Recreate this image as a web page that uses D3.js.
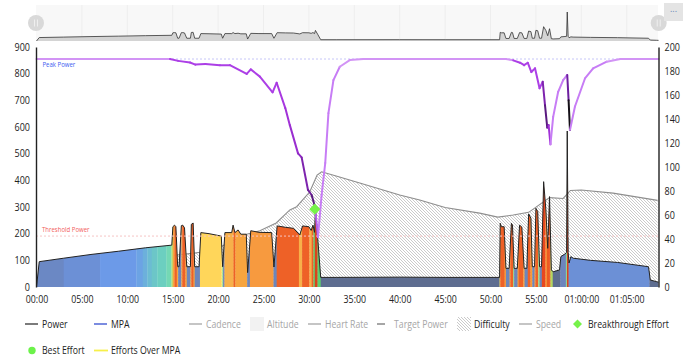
<!DOCTYPE html>
<html><head><meta charset="utf-8">
<script src="https://cdn.jsdelivr.net/npm/d3@7"></script>
<style>
html,body{margin:0;padding:0;background:#fff}
svg{display:block}
text{font-family:"Open Sans",sans-serif}
</style></head><body>
<svg id="c" width="690" height="361"></svg>
<script>
// ---- data (minutes, watts) ----
const powerT = [0,0.3,3,6,9,12,14.9,15.02,15.2,15.35,15.55,15.7,15.95,16.1,16.3,16.55,16.95,17.05,17.25,17.42,17.9,18.1,19,20.35,20.5,20.75,21.5,21.65,21.85,22.2,22.5,23.1,23.25,23.6,24.5,25.9,26.15,26.5,27.4,28.3,29,29.3,30,30.25,30.45,30.62,30.72,31,31.3,33,40,45,51,51.07,51.2,51.5,51.7,52.05,52.3,52.42,52.6,52.95,53.2,53.45,53.7,54,54.2,54.45,54.6,54.85,55,55.2,55.4,55.62,55.85,56.1,56.3,56.5,56.7,56.9,57.6,57.75,58.2,58.38,58.45,58.55,58.65,58.85,59.1,61,64,67.4,67.6,68.3,68.5];
const powerW = [0,95,108,122,134,147,157,226,232,226,76,76,230,232,222,76,76,235,240,76,76,204,200,191,76,204,204,232,204,214,198,198,54,211,205,204,75,229,224,220,195,229,226,212,232,205,292,170,36,36,37,36,36,239,226,226,70,70,239,232,70,70,232,225,70,70,274,258,76,76,295,283,76,76,395,289,145,339,64,57,64,114,124,130,585,130,90,114,108,100,92,76,26,20,18];
const difficultyT = [15.2,17.4,18,20.5,23.15,24.6,26.4,27.9,28.65,30.1,30.9,31.4,33,35.6,40,42.2,45,48.8,50.8,52.5,54.2,56.5,58,58.8,60,63.5,68.4];
const difficultyW = [119,127,130,155,198,211,240,289,301,357,420,432,416,390,345,326,298,277,262,270,280,335,332,362,364,352,325];
const mpaT = [0,14.7,15.6,16.9,17.5,18.6,20.2,21.3,23.15,23.6,24.6,26,26.45,27.4,27.9,28.8,29.2,29.9,30.3,30.67,31,31.4,31.8,32.15,32.7,33.4,34.5,36,51.7,52.5,53.25,53.7,54.1,54.5,54.9,55.4,55.75,56,56.25,56.4,56.6,56.9,57.45,58,58.45,58.6,58.75,59.3,60.4,61.3,62.8,64.3,68.5];
const mpaW = [855,855,848,842,834,836,832,832,799,816,789,730,766,671,607,501,486,364,345,301,187,345,465,652,776,826,851,855,855,850,841,832,841,806,820,745,770,682,598,607,535,638,732,776,795,700,589,677,782,820,845,855,855];
const mpaTone = ["#d294f5","#ac3fe6","#ac3fe6","#ac3fe6","#ac3fe6","#ac3fe6","#ac3fe6","#ac3fe6","#ac3fe6","#ac3fe6","#ac3fe6","#ac3fe6","#a838e0","#a232d8","#9a2ed0","#8f2ac4","#7e24ae","#6e1f9a","#5a1a80","#b45cf0","#c77df5","#c77df5","#c77df5","#c77df5","#c77df5","#d294f5","#d294f5","#d294f5","#d294f5","#ac3fe6","#ac3fe6","#ac3fe6","#ac3fe6","#ac3fe6","#ac3fe6","#ac3fe6","#7e24ae","#5a1a80","#6e1f9a","#a232d8","#c77df5","#c77df5","#c77df5","#c77df5","#6d1fa0","#151018","#c77df5","#c77df5","#c77df5","#c77df5","#d294f5","#d294f5"];
const bandStart = [0,3,7,11,11.7,12.2,12.7,13.3,14.3,14.85,15.0,15.2,15.45,15.6,15.95,16.05,16.4,16.55,16.95,17.05,17.3,17.42,18,20.35,20.45,20.55,20.7,21.7,21.9,23.2,23.5,25.9,26.1,26.45,28.9,29.25,30.05,30.3,30.5,30.65,30.95,31.2,31.3,51,51.07,51.55,51.7,52.1,52.2,52.48,52.6,52.98,53.1,53.6,53.75,54.1,54.4,54.6,54.85,54.95,55.25,55.4,55.65,56.05,56.2,56.45,56.6,56.85,57.7,58.3,58.42,58.6,67.5];
const bandColor = ["#6b88c4","#6c90d6","#6c9ae8","#6ca3e4","#6cb0dc","#6cbcd2","#6cc6c8","#6ccfc0","#74d8b4","#b2e07a","#f7a53f","#ee6127","#f7a53f","#6d86ba","#f7a53f","#ee6127","#f7a53f","#6d86ba","#f7a53f","#ee6127","#f7a53f","#6d86ba","#ffd65a","#ffe070","#9fe08a","#6d86ba","#f7b04a","#ee6127","#f7a53f","#6d86ba","#f79a3f","#f79a3f","#6d86ba","#ee6127","#f7b04a","#ee6127","#f7b04a","#ee6127","#5fd070","#d8441c","#5fd070","#5fd070","#5e6d90","#ffe14d","#ee6127","#f79a3a","#6d86ba","#f79a3a","#ee6127","#9fd08a","#6d86ba","#f79a3a","#ee6127","#f79a3a","#6d86ba","#ee6127","#f79a3a","#6d86ba","#f79a3a","#ee6127","#9fe08a","#6d86ba","#e8481f","#f79a3a","#ee5a22","#ee5a22","#b5d860","#5e6d90","#6d85bd","#8fd89a","#d8441c","#6c90d6","#5e6d90"];
const overviewSpikeT = 58.45, overviewSpikeW = 800;
const thresholdPower = 191, peakPower = 855;
const breakthrough = [30.65, 292];
const leftTicks = [0,100,200,300,400,500,600,700,800,900];
const rightTicks = [0,20,40,60,80,100,120,140,160,180,200];
const xTicks = [0,5,10,15,20,25,30,35,40,45,50,55,60,65];
const legendRow1 = ["Power","MPA","Cadence","Altitude","Heart Rate","Target Power","Difficulty","Speed","Breakthrough Effort"];
const legendRow2 = ["Best Effort","Efforts Over MPA"];

// ---- layout ----
const svg = d3.select("#c");
const x = d3.scaleLinear().domain([0,68.5]).range([36.5,658.5]);
const y = d3.scaleLinear().domain([0,900]).range([287,47]);
const yR = d3.scaleLinear().domain([0,200]).range([287,47]);
const yO = d3.scaleLinear().domain([0,800]).range([41,12]);
const condense = (sel,k)=>sel.each(function(){const L=this.getComputedTextLength();d3.select(this).attr("textLength",L*k).attr("lengthAdjust","spacingAndGlyphs")});

const defs = svg.append("defs");
const hatch = defs.append("pattern").attr("id","hatch").attr("patternUnits","userSpaceOnUse").attr("width",3).attr("height",3);
hatch.append("rect").attr("width",3).attr("height",3).attr("fill","#fff");
hatch.append("path").attr("d","M-1,-1L4,4M-1,2L1,4M2,-1L4,1").attr("stroke","#bdbdbd").attr("stroke-width",0.8);

// overview
svg.append("rect").attr("x",36).attr("y",5).attr("width",622).attr("height",36).attr("fill","#f8f8f8");
svg.append("g").selectAll("line").data(xTicks.slice(1)).join("line")
  .attr("x1",d=>x(d)).attr("x2",d=>x(d)).attr("y1",5).attr("y2",41).attr("stroke","#eeeeee");
const ovData = powerT.map((t,i)=>[t, t===overviewSpikeT?overviewSpikeW:powerW[i]]);
svg.append("path").datum(ovData).attr("fill","#d4d4d4")
  .attr("d",d3.area().x(d=>x(d[0])).y0(41).y1(d=>yO(d[1])));
svg.append("path").datum(ovData).attr("fill","none").attr("stroke","#333").attr("stroke-width",0.8)
  .attr("d",d3.line().x(d=>x(d[0])).y(d=>yO(d[1])));
[36,658.7].forEach(cx=>{
  svg.append("circle").attr("cx",cx).attr("cy",23).attr("r",8).attr("fill","#d9d9d9");
  [-1.5,1.5].forEach(o=>svg.append("rect").attr("x",cx+o-0.5).attr("y",19.5).attr("width",1).attr("height",7).attr("fill","#efefef"));
});
svg.append("rect").attr("x",664).attr("y",3).attr("width",19).attr("height",18).attr("fill","#e4e4e4");
svg.append("text").attr("x",673.5).attr("y",12).attr("text-anchor","middle").attr("font-size",9).attr("fill","#6a86b8").text("...");

// difficulty
const diff = difficultyT.map((t,i)=>[t,difficultyW[i]]);
svg.append("path").datum(diff).attr("fill","url(#hatch)")
  .attr("d",d3.area().x(d=>x(d[0])).y0(y(0)).y1(d=>y(d[1])));
svg.append("path").datum(diff).attr("fill","none").attr("stroke","#8e8e8e").attr("stroke-width",1.1)
  .attr("d",d3.line().x(d=>x(d[0])).y(d=>y(d[1])));

// power bands clipped to the power area
const pw = powerT.map((t,i)=>[t,powerW[i]]);
defs.append("clipPath").attr("id","pclip").append("path").datum(pw)
  .attr("d",d3.area().x(d=>x(d[0])).y0(y(0)).y1(d=>y(d[1])));
svg.append("g").attr("clip-path","url(#pclip)").selectAll("rect").data(bandStart).join("rect")
  .attr("x",d=>x(d)).attr("y",y(900)).attr("height",y(0)-y(900))
  .attr("width",(d,i)=>x(i+1<bandStart.length?bandStart[i+1]:68.5)-x(d)+0.3)
  .attr("fill",(d,i)=>bandColor[i]);
svg.append("path").datum(pw).attr("fill","none").attr("stroke","#222").attr("stroke-width",1)
  .attr("d",d3.line().x(d=>x(d[0])).y(d=>y(d[1])));

// reference lines
const refLine=(v,c)=>svg.append("line").attr("x1",36).attr("x2",658).attr("y1",y(v)).attr("y2",y(v))
  .attr("stroke",c).attr("stroke-width",1).attr("stroke-dasharray","2 2");
refLine(thresholdPower,"#f6c4c4");
refLine(peakPower,"#c6c6f8");
svg.append("text").attr("x",42).attr("y",232).attr("font-size",7).attr("fill","#f25c5c").text("Threshold Power").call(condense,0.86);
svg.append("text").attr("x",42.5).attr("y",67).attr("font-size",7).attr("fill","#3c5cf0").text("Peak Power").call(condense,0.86);

// MPA
const mp = mpaT.map((t,i)=>[t,mpaW[i]]);
svg.append("g").selectAll("line").data(mp.slice(0,-1)).join("line")
  .attr("x1",d=>x(d[0])).attr("y1",d=>y(d[1]))
  .attr("x2",(d,i)=>x(mp[i+1][0])).attr("y2",(d,i)=>y(mp[i+1][1]))
  .attr("stroke",(d,i)=>mpaTone[i]).attr("stroke-width",2).attr("stroke-linecap","round");

// breakthrough
svg.append("path").attr("transform",`translate(${x(breakthrough[0])},${y(breakthrough[1])}) rotate(45)`)
  .attr("d",d3.symbol(d3.symbolSquare,62)()).attr("fill","#76f24a");

// axes
const fmt = m => m>=60 ? "01:"+d3.format("02")(m-60)+":00" : d3.format("02")(m)+":00";
const gx = svg.append("g").attr("transform","translate(0,287)")
  .call(d3.axisBottom(x).tickValues(xTicks).tickFormat(fmt).tickSize(0).tickPadding(9));
gx.select(".domain").remove();
gx.selectAll("text").attr("font-size",10).attr("fill","#222").attr("font-family","'Open Sans'").call(condense,0.88);
const gl = svg.append("g").attr("transform","translate(36,0)")
  .call(d3.axisLeft(y).tickValues(leftTicks).tickSize(0).tickPadding(6));
gl.select(".domain").attr("stroke","#222").attr("stroke-width",1.4);
gl.selectAll("text").attr("font-size",10).attr("fill","#222").attr("font-family","'Open Sans'").call(condense,0.9);
const gr = svg.append("g").attr("transform","translate(658.5,0)")
  .call(d3.axisRight(yR).tickValues(rightTicks).tickSize(0).tickPadding(6));
gr.select(".domain").attr("stroke","#222").attr("stroke-width",1.4);
gr.selectAll("text").attr("font-size",10).attr("fill","#222").attr("font-family","'Open Sans'").call(condense,0.9);

// legend
const on="#222", off="#a6a6a6";
const keyLine=(a,b,yy,c,w=1.3)=>svg.append("line").attr("x1",a).attr("x2",b).attr("y1",yy).attr("y2",yy).attr("stroke",c).attr("stroke-width",w);
const label=(t,a,yy,c)=>svg.append("text").attr("x",a).attr("y",yy+3.5).attr("font-size",10).attr("fill",c).text(t).call(condense,0.87);
const rowY=324, row2Y=350.5;
keyLine(25,38,rowY,"#333");           label(legendRow1[0],42,rowY,on);
keyLine(94,107,rowY,"#5a6fd8",1.6);    label(legendRow1[1],111,rowY,on);
keyLine(189,202,rowY,off);            label(legendRow1[2],206,rowY,off);
svg.append("rect").attr("x",250).attr("y",317).attr("width",14).attr("height",14).attr("fill","#f2f2f2");
label(legendRow1[3],267,rowY,off);
keyLine(308,321,rowY,off);            label(legendRow1[4],325,rowY,off);
keyLine(377,385,rowY,off,2);          label(legendRow1[5],394,rowY,off);
svg.append("rect").attr("x",457).attr("y",317).attr("width",14).attr("height",14).attr("fill","url(#hatch)");
label(legendRow1[6],474,rowY,on);
keyLine(519,532,rowY,off);            label(legendRow1[7],536,rowY,off);
svg.append("path").attr("d",d3.symbol(d3.symbolSquare,40)()).attr("fill","#76f24a").attr("transform",`translate(577.5,${rowY}) rotate(45)`);
label(legendRow1[8],588,rowY,on);
svg.append("circle").attr("cx",32).attr("cy",row2Y).attr("r",3.7).attr("fill","#6cf24a");
label(legendRow2[0],42,row2Y,on);
keyLine(94,108,row2Y,"#f6ef4a",1.8);   label(legendRow2[1],111,row2Y,on);
</script>
</body></html>
